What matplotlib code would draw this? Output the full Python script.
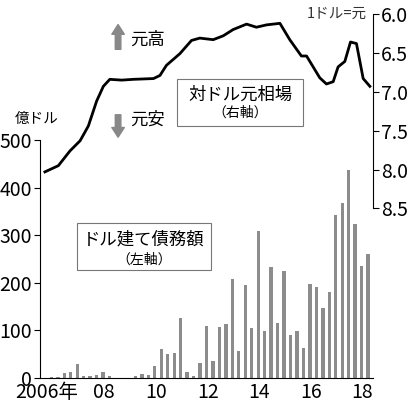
import matplotlib
matplotlib.use("Agg")
import matplotlib.pyplot as plt
import numpy as np

plt.rcParams['font.family'] = ['Noto Sans CJK JP', 'DejaVu Sans']
NUMF = ['Liberation Sans Narrow', 'Noto Sans CJK JP', 'DejaVu Sans']

debt = [1,2,3,11,13,30,5,4,7,13, 5,0,0,0,4,9,7,26,60,50,
        53,127,12,5,31,109,35,107,113,209, 56,196,105,308,99,233,116,225,91,98,
        63,198,191,148,181,343,368,437,323,236, 261]
rate_x = [2006.0,2006.52,2006.97,2007.36,2007.68,2008.0,2008.26,2008.51,2008.97,2009.42,
          2010.2,2010.45,2010.70,2011.22,2011.67,2011.99,2012.51,2012.9,2013.28,2013.8,
          2014.18,2014.57,2015.09,2015.47,2015.92,2016.12,2016.63,2016.89,2017.15,2017.34,
          2017.6,2017.82,2018.05,2018.31,2018.57]
rate_y = [8.03,7.95,7.76,7.63,7.44,7.12,6.93,6.84,6.85,6.84,
          6.83,6.79,6.66,6.51,6.34,6.31,6.33,6.28,6.20,6.13,
          6.17,6.14,6.12,6.33,6.54,6.54,6.82,6.90,6.87,6.68,
          6.61,6.36,6.38,6.83,6.93]
year_labels = ['2006年','08','10','12','14','16','18']
year_pos = [2006.06,2008.29,2010.3,2012.3,2014.3,2016.3,2018.25]

fig = plt.figure(figsize=(4.12,4.08), dpi=100)
ax = fig.add_axes([40/412, 30/408, 333/412, 378/408])
bx = 2006.0 + np.arange(len(debt))*0.25
ax.bar(bx, debt, width=0.13, color='#8c8c8c')
ax.set_xlim(2005.81, 2018.69)
ax.set_ylim(0, 794)
for s in ['top','right']:
    ax.spines[s].set_visible(False)
ax.spines['left'].set_bounds(0, 500)
ax.set_yticks([0,100,200,300,400,500])
ax.tick_params(axis='y', labelsize=14, length=4, pad=2)
ax.set_xticks(year_pos)
ax.set_xticklabels(year_labels)
ax.tick_params(axis='x', length=0, pad=3, labelsize=14)
for t in ax.get_yticklabels() + ax.get_xticklabels():
    t.set_fontfamily(NUMF)
ax.text(-0.01, 530, '億ドル', transform=ax.get_yaxis_transform(), fontsize=10.5, ha='center', va='bottom')

ax2 = ax.twinx()
ax2.plot(rate_x, rate_y, color='black', lw=2)
ax2.set_ylim(10.68, 5.82)
for s in ['top','left','bottom']:
    ax2.spines[s].set_visible(False)
ax2.spines['right'].set_bounds(6.0, 8.5)
ax2.set_yticks([6.0,6.5,7.0,7.5,8.0,8.5])
ax2.set_yticklabels(['6.0','6.5','7.0','7.5','8.0','8.5'])
ax2.tick_params(axis='y', labelsize=14, length=4, pad=2)
for t in ax2.get_yticklabels():
    t.set_fontfamily(NUMF)
ax2.text(2018.46, 6.0, '1ドル=元', fontsize=10.5, ha='right', va='center', color='#333333')

ax2.text(2013.55, 7.04, '対ドル元相場', fontsize=12.5, ha='center', va='center')
ax2.text(2013.55, 7.27, '（右軸）', fontsize=10, ha='center', va='center')
ax2.add_patch(plt.Rectangle((2011.11, 6.84), 4.87, 0.60, fill=False, ec='#777777', lw=0.8))
ax.text(2009.83, 291, 'ドル建て債務額', fontsize=12.5, ha='center', va='center')
ax.text(2009.83, 248, '（左軸）', fontsize=10, ha='center', va='center')
ax.add_patch(plt.Rectangle((2007.24, 227), 5.19, 99, fill=False, ec='#777777', lw=0.8))

ax2.annotate('', xy=(2008.83, 6.1), xytext=(2008.83, 6.49),
             arrowprops=dict(arrowstyle='simple,head_width=0.9,head_length=0.7,tail_width=0.4', color='#888888'))
ax2.annotate('', xy=(2008.83, 7.62), xytext=(2008.83, 7.26),
             arrowprops=dict(arrowstyle='simple,head_width=0.9,head_length=0.7,tail_width=0.4', color='#888888'))
ax2.text(2009.29, 6.33, '元高', fontsize=12.5, ha='left', va='center')
ax2.text(2009.29, 7.36, '元安', fontsize=12.5, ha='left', va='center')

fig.savefig('out.png', dpi=100)
